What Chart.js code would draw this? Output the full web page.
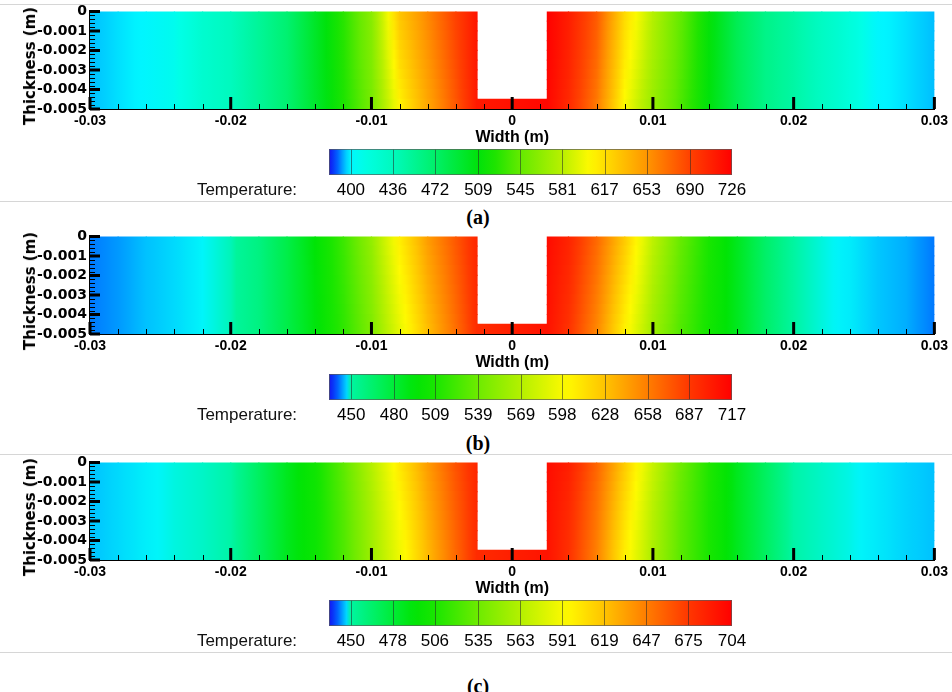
<!DOCTYPE html>
<html>
<head>
<meta charset="utf-8">
<script src="https://cdn.jsdelivr.net/npm/chart.js@4.4.1/dist/chart.umd.min.js"></script>
<style>
  body { margin: 0; background: #fff; }
  #page { position: relative; width: 952px; height: 692px; overflow: hidden; font-family: 'Liberation Sans', Arial, sans-serif; }
  #page canvas { position: absolute; left: 0; }
  .rule { position: absolute; left: 0; width: 952px; height: 1px; background: #d6d6d6; }
  .tlabel { position: absolute; font-size: 17px; color: #111; transform: translate(-50%, -50%); white-space: nowrap; }
  .ytitle { position: absolute; font: bold 15px 'DejaVu Sans', sans-serif; color: #000; white-space: nowrap;
            transform: translate(-50%, -50%) rotate(-90deg); }
  .tag { position: absolute; font: bold 20px 'Liberation Serif', 'Times New Roman', serif; transform: translate(-50%, -50%); }
</style>
</head>
<body>
<div id="page">
  <div class="rule" style="top:4px"></div>
  <canvas id="plotA" width="952" height="148" style="top:0px"></canvas>
  <div class="ytitle" style="left:30px; top:66px">Thickness (m)</div>
  <canvas id="barA" width="952" height="64" style="top:140px"></canvas>
  <div class="tlabel" style="left:247px; top:190px">Temperature:</div>
  <div class="rule" style="top:201px"></div>
  <div class="tag" style="left:478px; top:217px">(a)</div>

  <canvas id="plotB" width="952" height="148" style="top:225px"></canvas>
  <div class="ytitle" style="left:30px; top:291px">Thickness (m)</div>
  <canvas id="barB" width="952" height="64" style="top:365px"></canvas>
  <div class="tlabel" style="left:247px; top:415px">Temperature:</div>
  <div class="tag" style="left:478px; top:443px">(b)</div>
  <div class="rule" style="top:454px"></div>

  <canvas id="plotC" width="952" height="148" style="top:451px"></canvas>
  <div class="ytitle" style="left:30px; top:517px">Thickness (m)</div>
  <canvas id="barC" width="952" height="64" style="top:591px"></canvas>
  <div class="tlabel" style="left:247px; top:641px">Temperature:</div>
  <div class="rule" style="top:652px"></div>
  <div class="tag" style="left:478px; top:686px">(c)</div>
</div>
<script>
// column edges across the width (m); the notch is between -0.0025 and 0.0025
const widthX = [-0.03, -0.028, -0.026, -0.024, -0.022, -0.02, -0.018, -0.016, -0.014, -0.012, -0.01, -0.008, -0.006, -0.004, -0.0025,
                0.0025, 0.004, 0.006, 0.008, 0.01, 0.012, 0.014, 0.016, 0.018, 0.02, 0.022, 0.024, 0.026, 0.028, 0.03];
const notchBottom = -0.0045;
const thickness = 0.005;

const xTicks = [-0.03, -0.02, -0.01, 0, 0.01, 0.02, 0.03];
const xTickLabels = ['-0.03', '-0.02', '-0.01', '0', '0.01', '0.02', '0.03'];
const yTicks = [0, -0.001, -0.002, -0.003, -0.004, -0.005];
const yTickLabels = ['0', '-0.001', '-0.002', '-0.003', '-0.004', '-0.005'];

// (a) temperatures at widthX, top surface and bottom surface
const levelsA = [400, 436, 472, 509, 545, 581, 617, 653, 690, 726];
const topA = [394.6, 397.5, 400, 407, 425, 436, 452, 469, 497.7, 526.7, 561, 630, 660, 691, 715,
              726, 711, 680.5, 620, 580, 544.8, 512, 480, 459, 447, 433, 418, 400, 397.5, 394.6];
const bottomA = [394.6, 397.5, 400, 407, 425, 436, 452, 469, 495, 522, 552, 606, 644, 680, 712,
                 722, 703, 665, 602, 566, 537, 508, 480, 459, 447, 433, 418, 400, 397.5, 394.6];

// (b)
const levelsB = [450, 480, 509, 539, 569, 598, 628, 658, 687, 717];
const topB = [441.7, 443.5, 445.7, 447, 448.5, 449.6, 459, 475, 494.5, 521, 555, 607, 644.5, 674, 696.5,
              711, 698, 667, 625, 573, 536, 508, 487, 466, 450, 449, 448, 446, 444.6, 441.7];
const bottomB = [441.7, 443.5, 445.7, 447, 448.5, 449.6, 459, 475, 492, 516, 546, 590, 630, 664, 693,
                 707, 690, 654, 605, 560, 528, 505, 487, 466, 450, 449, 448, 446, 444.6, 441.7];

// (c)
const levelsC = [450, 478, 506, 535, 563, 591, 619, 647, 675, 704];
const topC = [446, 447.2, 448.3, 449, 449.4, 449.9, 467, 485, 500.8, 529, 563, 602, 635, 664.5, 684,
              698, 688, 657, 616, 571, 535, 508, 485, 467, 449.9, 449.4, 448.9, 448, 446.9, 446];
const bottomC = [446, 447.2, 448.3, 449, 449.4, 449.9, 467, 485, 498, 523, 553, 586, 622, 655, 681,
                 694, 678, 645, 598, 558, 527, 505, 485, 467, 449.9, 449.4, 448.9, 448, 446.9, 446];

// colour maps, position is in contour-level steps (0 = first level)
const mapA = [
  [-0.52, 20, 20, 240], [-0.35, 0, 80, 255], [-0.15, 0, 190, 255], [-0.02, 0, 245, 255], [0.3, 0, 255, 230],
  [1, 0, 250, 190], [2, 0, 240, 105], [3, 0, 226, 10], [3.4, 30, 228, 0], [4, 100, 234, 0], [5, 185, 240, 0],
  [5.65, 255, 250, 0], [6, 255, 222, 0], [7, 255, 150, 0], [8, 255, 65, 0], [9, 255, 0, 0]
];
const mapBC = [
  [-0.52, 20, 20, 240], [-0.35, 0, 80, 255], [-0.15, 0, 190, 255], [-0.05, 0, 245, 250], [0, 0, 245, 160],
  [1, 0, 236, 55], [1.5, 0, 228, 5], [2, 25, 230, 0], [3, 110, 235, 0], [4, 180, 240, 0], [5.1, 255, 250, 0],
  [6, 255, 195, 0], [7, 255, 125, 0], [8, 255, 55, 0], [9, 255, 0, 0]
];

Chart.defaults.font.family = "'Liberation Sans', Arial, sans-serif";
Chart.defaults.color = '#000';

function levelPos(t, levels) {
  if (t <= levels[0]) return (t - levels[0]) / (levels[1] - levels[0]);
  for (let i = 1; i < levels.length; i++) {
    if (t <= levels[i]) return i - 1 + (t - levels[i - 1]) / (levels[i] - levels[i - 1]);
  }
  return levels.length - 1;
}

function colorFor(t, levels, map) {
  let k = levelPos(t, levels);
  k = Math.max(map[0][0], Math.min(map[map.length - 1][0], k));
  let i = 1;
  while (i < map.length - 1 && map[i][0] < k) i++;
  const a = map[i - 1], b = map[i];
  const f = (k - a[0]) / (b[0] - a[0] || 1);
  const c = [1, 2, 3].map(j => Math.round(a[j] + (b[j] - a[j]) * f));
  return 'rgb(' + c.join(',') + ')';
}

function cellFill(levels, map) {
  return function(c) {
    const d = c.raw;
    if (!d) return '#fff';
    const xs = c.chart.scales.x;
    const p0 = xs ? xs.getPixelForValue(d.x[0]) : NaN;
    const p1 = xs ? xs.getPixelForValue(d.x[1]) : NaN;
    // the first pass happens before the layout, the scale has no pixels yet
    if (!isFinite(p0) || !isFinite(p1) || p0 === p1) return colorFor(d.t0, levels, map);
    const g = c.chart.ctx.createLinearGradient(p0, 0, p1, 0);
    for (let s = 0; s <= 5; s++) {
      g.addColorStop(s / 5, colorFor(d.t0 + (d.t1 - d.t0) * s / 5, levels, map));
    }
    return g;
  };
}

function buildCells(top, bottom) {
  const cells = [];
  const rows = 10;
  const dy = thickness / rows;
  for (let j = 0; j < rows; j++) {
    const yc = -(j + 0.5) * dy;
    const f = (j + 0.5) / rows;
    for (let i = 0; i < widthX.length - 1; i++) {
      const x0 = widthX[i], x1 = widthX[i + 1];
      if (x0 >= -0.0025 && x1 <= 0.0025 && yc > notchBottom) continue;
      cells.push({
        x: [x0, x1], y: yc,
        t0: top[i] + (bottom[i] - top[i]) * f,
        t1: top[i + 1] + (bottom[i + 1] - top[i + 1]) * f
      });
    }
  }
  return cells;
}

// inward tick marks like the original plot
const tickMarks = {
  id: 'tickMarks',
  afterDatasetsDraw(chart) {
    const {ctx, chartArea, scales: {x, y}} = chart;
    ctx.save();
    ctx.strokeStyle = '#000';
    ctx.lineWidth = 1;
    ctx.beginPath();
    for (let i = -15; i <= 15; i++) {
      const px = Math.round(x.getPixelForValue(i * 0.002)) + 0.5;
      ctx.moveTo(px, chartArea.bottom);
      ctx.lineTo(px, chartArea.bottom - 5);
    }
    for (let i = 0; i <= 25; i++) {
      const py = Math.round(y.getPixelForValue(-i * 0.0002)) + 0.5;
      ctx.moveTo(chartArea.left, py);
      ctx.lineTo(chartArea.left + 5, py);
    }
    ctx.stroke();
    ctx.lineWidth = 3;
    ctx.beginPath();
    xTicks.forEach(v => {
      const px = x.getPixelForValue(v);
      ctx.moveTo(px, chartArea.bottom);
      ctx.lineTo(px, chartArea.bottom - 12);
    });
    yTicks.forEach(v => {
      const py = y.getPixelForValue(v);
      ctx.moveTo(chartArea.left, py);
      ctx.lineTo(chartArea.left + 10, py);
    });
    ctx.stroke();
    ctx.restore();
  }
};

function makePlot(id, top, bottom, levels, map) {
  new Chart(document.getElementById(id), {
    type: 'bar',
    data: {
      datasets: [{
        data: buildCells(top, bottom),
        backgroundColor: cellFill(levels, map),
        borderWidth: 0,
        inflateAmount: 0.6,
        barPercentage: 1,
        categoryPercentage: 1
      }]
    },
    options: {
      indexAxis: 'y',
      responsive: false,
      animation: false,
      events: [],
      layout: { padding: { top: 10, right: 15, left: 0, bottom: 0 } },
      plugins: { legend: { display: false }, tooltip: { enabled: false } },
      scales: {
        x: {
          type: 'linear',
          min: -0.03, max: 0.03,
          afterBuildTicks: s => { s.ticks = xTicks.map(v => ({ value: v })); },
          afterFit: s => { s.height = 39; },
          grid: { display: false, drawTicks: false },
          border: { display: true, color: '#000', width: 2 },
          ticks: {
            autoSkip: false, maxRotation: 0, padding: 4,
            font: { size: 14, weight: 'bold' },
            callback: (v, i) => xTickLabels[i]
          },
          title: { display: true, text: 'Width (m)', padding: { top: 0, bottom: 1 }, font: { size: 16, weight: 'bold' } }
        },
        y: {
          type: 'linear',
          offset: false,
          min: -0.005, max: 0,
          afterBuildTicks: s => { s.ticks = yTicks.map(v => ({ value: v })); },
          afterFit: s => { s.width = 90; },
          grid: { display: false, drawTicks: false },
          border: { display: true, color: '#000', width: 3 },
          ticks: {
            autoSkip: false, padding: 3,
            font: { family: "'DejaVu Sans', sans-serif", size: 14, weight: 'bold' },
            callback: (v, i) => yTickLabels[i]
          }
        }
      }
    },
    plugins: [tickMarks]
  });
}

// level separators and outline of the colour bar, on whole pixels
const barLines = {
  id: 'barLines',
  afterDatasetsDraw(chart, args, opts) {
    const {ctx, chartArea, scales: {x}} = chart;
    const t = Math.round(chartArea.top) + 0.5, b = Math.round(chartArea.bottom) - 0.5;
    const l = Math.round(chartArea.left) + 0.5, r = Math.round(chartArea.right) - 0.5;
    ctx.save();
    ctx.lineWidth = 1;
    ctx.strokeStyle = 'rgba(40,40,40,0.55)';
    ctx.beginPath();
    opts.levels.slice(0, -1).forEach(v => {
      const px = Math.round(x.getPixelForValue(v)) + 0.5;
      ctx.moveTo(px, t);
      ctx.lineTo(px, b);
    });
    ctx.stroke();
    ctx.strokeStyle = 'rgba(90,90,90,0.7)';
    ctx.strokeRect(l, t, r - l, b - t);
    ctx.restore();
  }
};

function makeColorBar(id, levels, map) {
  const low = levels[0] - (levels[1] - levels[0]) * 0.52;
  const edges = [low].concat(levels);
  const cells = [];
  for (let i = 0; i < edges.length - 1; i++) {
    cells.push({ x: [edges[i], edges[i + 1]], y: 'T', t0: edges[i], t1: edges[i + 1] });
  }
  new Chart(document.getElementById(id), {
    type: 'bar',
    data: {
      labels: ['T'],
      datasets: [{
        data: cells,
        backgroundColor: cellFill(levels, map),
        borderWidth: 0,
        inflateAmount: 0.6,
        barPercentage: 1,
        categoryPercentage: 1
      }]
    },
    options: {
      indexAxis: 'y',
      responsive: false,
      animation: false,
      events: [],
      layout: { padding: { top: 9, right: 220, left: 329, bottom: 0 } },
      plugins: { legend: { display: false }, tooltip: { enabled: false }, barLines: { levels: levels } },
      scales: {
        x: {
          type: 'linear',
          min: low, max: levels[levels.length - 1],
          afterBuildTicks: s => { s.ticks = levels.map(v => ({ value: v })); },
          afterFit: s => { s.height = 29; },
          grid: { display: false, drawTicks: false },
          border: { display: false },
          ticks: { autoSkip: false, maxRotation: 0, padding: 5, font: { size: 17 }, callback: (v, i) => String(levels[i]) }
        },
        y: { type: 'category', display: false }
      }
    },
    plugins: [barLines]
  });
}

makePlot('plotA', topA, bottomA, levelsA, mapA);
makeColorBar('barA', levelsA, mapA);
makePlot('plotB', topB, bottomB, levelsB, mapBC);
makeColorBar('barB', levelsB, mapBC);
makePlot('plotC', topC, bottomC, levelsC, mapBC);
makeColorBar('barC', levelsC, mapBC);
</script>
</body>
</html>
